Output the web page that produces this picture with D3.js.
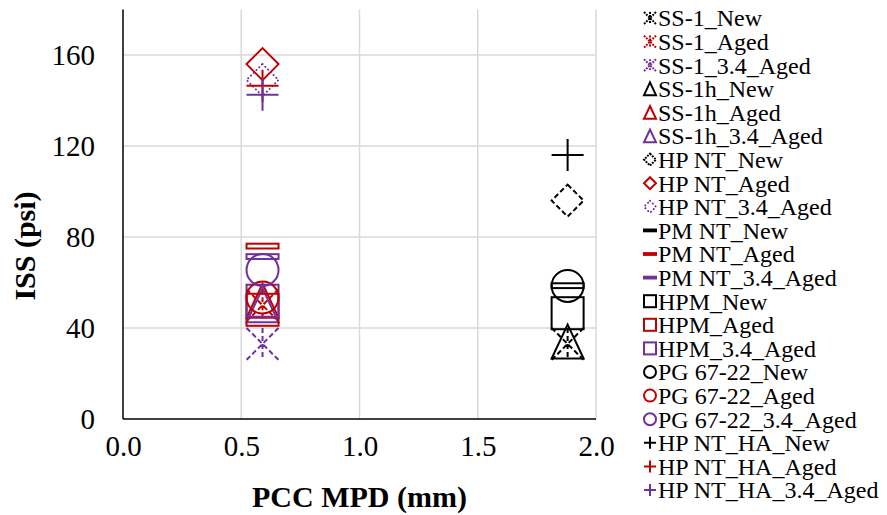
<!DOCTYPE html>
<html>
<head>
<meta charset="utf-8">
<script src="https://cdn.jsdelivr.net/npm/d3@7"></script>
<style>
  html, body { margin: 0; padding: 0; background: #fff; }
  svg { display: block; font-family: "Liberation Serif", "Times New Roman", serif; }
</style>
</head>
<body>
<svg id="chart" width="887" height="515"></svg>
<script>
// Binders and ageing conditions
const binders = ["SS-1", "SS-1h", "HP NT", "PM NT", "HPM", "PG 67-22", "HP NT_HA"];
const conditions = ["New", "Aged", "3.4_Aged"];

// PCC mean profile depth (mm) for each condition
const mpdByCondition = [1.88, 0.59, 0.59];

// Interlayer shear strength (psi), one value per binder
const issNew     = [33, 34, 96, 58.6, 46.5, 58.5, 116];
const issAged    = [50, 52, 156, 76, 48, 53.4, 146.5];
const iss34Aged  = [33, 50, 149, 71.4, 52, 65.5, 142.5];
const issByCondition = [issNew, issAged, iss34Aged];

// Axis ticks
const xTicks = [0.0, 0.5, 1.0, 1.5, 2.0];
const yTicks = [0, 40, 80, 120, 160];

// Marker shape per binder, colour per condition
const shapes = ["asterisk", "triangle", "diamond", "dash", "square", "circle", "cross"];
const colors = ["#000000", "#C00000", "#7030A0"];

function strokeStyle(bi, ci) {
  if (bi === 0) return "dash";
  if (bi === 2) return ["dash", "solid", "dot"][ci];
  return "solid";
}

const series = [];
binders.forEach((b, bi) => {
  conditions.forEach((c, ci) => {
    series.push({
      name: b + "_" + c,
      shape: shapes[bi],
      color: colors[ci],
      style: strokeStyle(bi, ci),
      x: mpdByCondition[ci],
      y: issByCondition[ci][bi]
    });
  });
});

const svg = d3.select("#chart");
const x = d3.scaleLinear().domain([0, 2]).range([123, 596]);
const y = d3.scaleLinear().domain([0, 180]).range([419, 9.5]);

// Gridlines
const grid = svg.append("g");
grid.selectAll("line.h").data(yTicks.filter(d => d > 0)).join("line")
  .attr("x1", x(0)).attr("x2", x(2))
  .attr("y1", d => y(d)).attr("y2", d => y(d))
  .attr("stroke", "#d9d9d9").attr("stroke-width", 1.5);
grid.selectAll("line.v").data(xTicks.filter(d => d > 0)).join("line")
  .attr("x1", d => x(d)).attr("x2", d => x(d))
  .attr("y1", y(0)).attr("y2", y(180))
  .attr("stroke", "#d9d9d9").attr("stroke-width", 1.5);

// Axes
const xAxis = d3.axisBottom(x).tickValues(xTicks).tickFormat(d3.format(".1f")).tickSize(0).tickPadding(16);
const yAxis = d3.axisLeft(y).tickValues(yTicks).tickSize(0).tickPadding(28);

const gx = svg.append("g").attr("transform", `translate(0,${y(0)})`).call(xAxis);
const gy = svg.append("g").attr("transform", `translate(${x(0)},0)`).call(yAxis);
[gx, gy].forEach(g => {
  g.attr("font-family", null);
  g.select(".domain").attr("stroke", "#000").attr("stroke-width", 1.5);
  g.selectAll("text").attr("font-family", "Liberation Serif").attr("font-size", 29).attr("fill", "#000");
});
gx.select(".domain").attr("d", `M${x(0)},0H${x(2)}`);
gy.select(".domain").attr("d", `M0,${y(180)}V${y(0)}`);

// Axis titles
svg.append("text")
  .attr("x", (x(0) + x(2)) / 2).attr("y", 507)
  .attr("text-anchor", "middle")
  .attr("font-size", 30).attr("font-weight", "bold")
  .text("PCC MPD (mm)");
svg.append("text")
  .attr("transform", "translate(35,246) rotate(-90)")
  .attr("text-anchor", "middle")
  .attr("font-size", 30).attr("font-weight", "bold")
  .text("ISS (psi)");

// Draws one marker centred at (0,0) with half-size s
function drawMarker(g, shape, s, color, style, sw) {
  const dash = style === "dash" ? `${s * 0.32},${s * 0.18}` : style === "dot" ? `0.1,${sw * 1.9}` : null;
  const cap = style === "dot" ? "round" : "butt";
  const attrs = el => el.attr("fill", "none").attr("stroke", color).attr("stroke-width", sw)
    .attr("stroke-dasharray", dash).attr("stroke-linecap", cap);
  switch (shape) {
    case "asterisk":
      attrs(g.append("path").attr("d",
        `M${-s},${-s}L${s},${s}M${s},${-s}L${-s},${s}M0,${-s}L0,${s}`));
      break;
    case "triangle":
      attrs(g.append("path").attr("d",
        `M0,${-s * 1.06}L${s},${s * 1.06}L${-s},${s * 1.06}Z`));
      break;
    case "diamond":
      attrs(g.append("path").attr("d", `M0,${-s}L${s},0L0,${s}L${-s},0Z`));
      break;
    case "dash":
      attrs(g.append("rect").attr("x", -s).attr("y", -s * 0.15).attr("width", 2 * s).attr("height", s * 0.3));
      break;
    case "square":
      attrs(g.append("rect").attr("x", -s).attr("y", -s).attr("width", 2 * s).attr("height", 2 * s));
      break;
    case "circle":
      attrs(g.append("circle").attr("r", s));
      break;
    case "cross":
      attrs(g.append("path").attr("d", `M${-s},0L${s},0M0,${-s}L0,${s}`));
      break;
  }
}

// Data points
const pts = svg.append("g");
series.forEach(d => {
  const g = pts.append("g").attr("transform", `translate(${x(d.x)},${y(d.y)})`);
  drawMarker(g, d.shape, 16, d.color, d.style, 2);
});

// Legend
const legend = svg.append("g");
series.forEach((d, i) => {
  const cy = 18 + i * 23.6;
  const g = legend.append("g").attr("transform", `translate(650,${cy})`);
  drawMarker(g, d.shape, 6, d.color, d.style, 2);
  legend.append("text")
    .attr("x", 658).attr("y", cy)
    .attr("dy", "0.35em")
    .attr("font-size", 24)
    .attr("fill", "#000")
    .text(d.name);
});
</script>
</body>
</html>
